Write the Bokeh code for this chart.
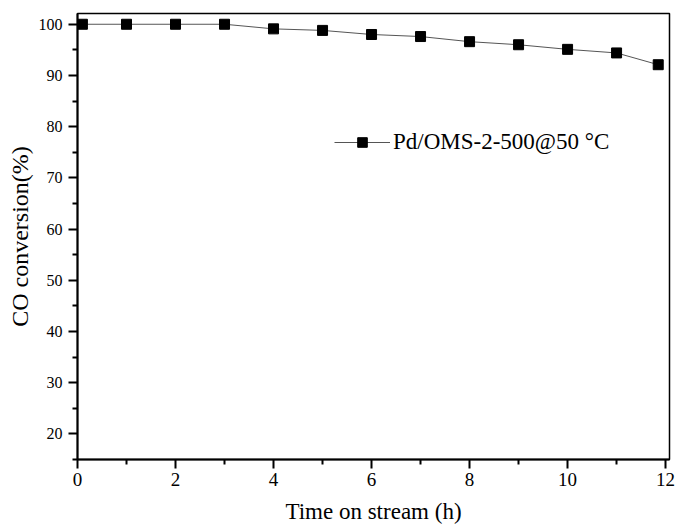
from bokeh.plotting import figure
from bokeh.models import Range1d, FixedTicker, Legend, LegendItem
from bokeh.embed import file_html
from bokeh.resources import INLINE

time_h = [0.1, 1, 2, 3, 4, 5, 6, 7, 8, 9, 10, 11, 11.85]
conversion = [100.0, 100.0, 100.0, 100.0, 99.1, 98.8, 98.0, 97.6, 96.6, 96.0, 95.1, 94.4, 92.1]
series_label = "Pd/OMS-2-500@50 \u00b0C"
x_ticks = [0, 2, 4, 6, 8, 10, 12]
x_minor = [1, 3, 5, 7, 9, 11]
y_ticks = [20, 30, 40, 50, 60, 70, 80, 90, 100]
y_minor = [15, 25, 35, 45, 55, 65, 75, 85, 95]

FONT = "Liberation Serif"

p = figure(width=676, height=526, output_backend="svg", toolbar_location=None,
           x_range=Range1d(0, 12.08), y_range=Range1d(15, 102.1),
           min_border_left=77, min_border_right=7, min_border_top=13, min_border_bottom=67)
p.grid.visible = False
p.outline_line_color = "black"
p.outline_line_width = 1.5
p.background_fill_color = "white"
p.border_fill_color = "white"

line = p.line(time_h, conversion, line_color="#555555", line_width=1)
pts = p.scatter(time_h, conversion, marker="square", size=10, fill_color="black", line_color="black")

p.xaxis.ticker = FixedTicker(ticks=x_ticks, minor_ticks=x_minor)
p.yaxis.ticker = FixedTicker(ticks=y_ticks, minor_ticks=y_minor)
for ax in (p.xaxis, p.yaxis):
    ax.axis_line_width = 2
    ax.axis_line_color = "black"
    ax.major_tick_line_width = 2
    ax.minor_tick_line_width = 2
    ax.major_tick_in = 0
    ax.major_tick_out = 9
    ax.minor_tick_in = 0
    ax.minor_tick_out = 5
    ax.major_label_text_font = FONT
    ax.major_label_text_color = "black"
    ax.axis_label_text_font = FONT
    ax.axis_label_text_font_style = "normal"
    ax.axis_label_text_color = "black"

p.xaxis.major_label_text_font_size = "19px"
p.yaxis.major_label_text_font_size = "16px"
p.xaxis.axis_label = "Time on stream (h)"
p.yaxis.axis_label = "CO conversion(%)"
p.xaxis.axis_label_text_font_size = "23px"
p.yaxis.axis_label_text_font_size = "24px"
p.xaxis.major_label_standoff = 4
p.yaxis.major_label_standoff = 6
p.xaxis.axis_label_standoff = 10
p.yaxis.axis_label_standoff = 3

legend = Legend(items=[LegendItem(label=series_label, renderers=[line, pts])],
                location=(257, 304))
legend.border_line_color = None
legend.background_fill_alpha = 0
legend.padding = 0
legend.margin = 0
legend.glyph_width = 56
legend.glyph_height = 24
legend.label_standoff = 3
legend.label_text_font = FONT
legend.label_text_font_size = "23px"
legend.label_text_color = "black"
p.add_layout(legend, "center")

open("out.html", "w").write(file_html(p, INLINE))
